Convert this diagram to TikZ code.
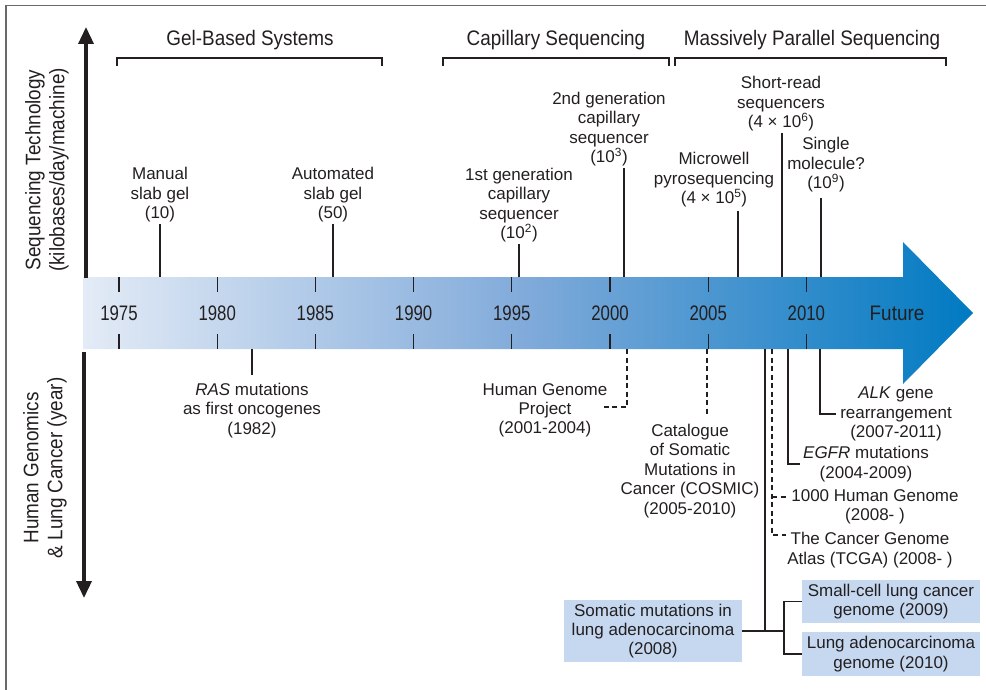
\documentclass[tikz,border=0pt]{standalone}
\usepackage{fontspec}
\setmainfont{Liberation Sans}
\newfontfamily\yearfont[FakeStretch=0.8]{Liberation Sans}
\newfontfamily\headfont[FakeStretch=0.9]{Liberation Sans}
\usepackage{tikz}
\usetikzlibrary{arrows.meta,positioning,calc}

\definecolor{ink}{RGB}{35,31,32}
\definecolor{framegray}{RGB}{105,105,105}
\definecolor{boxblue}{RGB}{197,216,240}
\definecolor{barlight}{RGB}{227,235,246}
\definecolor{barmid}{RGB}{128,170,218}
\definecolor{bardark}{RGB}{0,122,194}

\tikzset{
  lbl/.style={align=center, inner sep=1.5pt, text=ink, font=\fontsize{17}{19.4}\selectfont},
  yearlbl/.style={text=ink, font=\yearfont\fontsize{21}{24}\selectfont},
  headlbl/.style={text=ink, font=\headfont\fontsize{21}{24}\selectfont},
  sidelbl/.style={align=center, rotate=90, text=ink, font=\headfont\fontsize{21}{24}\selectfont},
  mline/.style={draw=ink, line width=1.6pt},
  dline/.style={draw=ink, line width=1.6pt, dash pattern=on 5pt off 3.5pt},
  bline/.style={draw=ink, line width=1.2pt},
  tickline/.style={draw=ink, line width=1.3pt},
  axisarrow/.style={draw=ink, line width=3.5pt, -{Triangle[width=15pt,length=17pt]}},
  bluebox/.style={fill=boxblue, align=center, text=ink, inner sep=0pt,
    minimum width=178pt, font=\fontsize{17}{19.4}\selectfont},
}

\begin{document}
\begin{tikzpicture}[x=1pt, y=-1pt]
        \useasboundingbox (0,0) rectangle (986,690);

        % Frame
        \draw[framegray, line width=1.5pt] (6,690) -- (6,5.5) -- (986,5.5);

        % Time arrow
        \shade[left color=barlight, right color=bardark, middle color=barmid]
          (83,277) -- (903,277) -- (903,242) -- (973,313) -- (903,384) -- (903,349) -- (83,349) -- cycle;
        \coordinate (bartop) at (0,277);
        \coordinate (barbot) at (0,349);
        \foreach \yr [count=\i from 0] in {1975,1980,...,2010} {
          \node[yearlbl] (yr\yr) at (119+98.2*\i,313) {\yr};
          \draw[tickline] (yr\yr.center |- bartop) -- ++(0,15);
          \draw[tickline] (yr\yr.center |- barbot) -- ++(0,-15);
        }
        \node[headlbl] (future) at (897,313) {Future};

        % Side axes
        \draw[axisarrow] (86,278) -- (86,27);
        \draw[axisarrow] (84,352) -- (84,598);
        \node[sidelbl] (seqtech) at (47,170) {Sequencing Technology\\(kilobases/day/machine)};
        \node[sidelbl] (genomics) at (45,468) {Human Genomics\\\& Lung Cancer (year)};

        % Eras
        \draw[bline] (117,66) -- (117,58) -- (382,58) -- (382,66);
        \draw[bline] (443,66) -- (443,58) -- (669,58) -- (669,66);
        \draw[bline] (675,66) -- (675,58) -- (946,58) -- (946,66);
        \node[headlbl] (gel) at (250,40) {Gel-Based Systems};
        \node[headlbl] (capillary) at (556,40) {Capillary Sequencing};
        \node[headlbl] (parallel) at (812,40) {Massively Parallel Sequencing};

        % Sequencing technology
        \node[lbl, above] (manual) at (160,224) {Manual\\slab gel\\(10)};
        \draw[mline] (manual.south) -- (manual.south |- bartop);
        \node[lbl, above] (automated) at (333,224) {Automated\\slab gel\\(50)};
        \draw[mline] (automated.south) -- (automated.south |- bartop);
        \node[lbl, above] (gen1) at (519,244) {1st generation\\capillary\\sequencer\\(10\textsuperscript{2})};
        \draw[mline] (gen1.south) -- (gen1.south |- bartop);
        \node[lbl, above] (gen2) at (609,168) {2nd generation\\capillary\\sequencer\\(10\textsuperscript{3})};
        \draw[mline] ([xshift=15pt]gen2.south) -- ([xshift=15pt]gen2.south |- bartop);
        \node[lbl, above] (micro) at (714,209) {Microwell\\pyrosequencing\\(4 × 10\textsuperscript{5})};
        \draw[mline] ([xshift=24pt,yshift=-2pt]micro.south) -- ([xshift=24pt]micro.south |- bartop);
        \node[lbl, above] (shortread) at (781,133) {Short-read\\sequencers\\(4 × 10\textsuperscript{6})};
        \draw[mline] ([xshift=1pt]shortread.south) -- ([xshift=1pt]shortread.south |- bartop);
        \node[lbl, above] (single) at (826,194) {Single\\molecule?\\(10\textsuperscript{9})};
        \draw[mline] ([xshift=-5pt,yshift=-4pt]single.south) -- ([xshift=-5pt]single.south |- bartop);

        % Human genomics and lung cancer
        \node[lbl, below] (ras) at (252,381.5) {\textit{RAS} mutations\\as first oncogenes\\(1982)};
        \draw[mline] (ras.north |- barbot) -- ([yshift=6.5pt]ras.north);

        \node[lbl, below] (hgp) at (545,381.5) {Human Genome\\Project\\(2001-2004)};
        \coordinate (hgpfoot) at (627,349);
        \draw[dline] (hgpfoot) -- ++(0,58) -- ++(-25,0);

        \node[lbl, below] (cosmic) at (690,422.5) {Catalogue\\of Somatic\\Mutations in\\Cancer (COSMIC)\\(2005-2010)};
        \coordinate (cosmicfoot) at (707,349);
        \draw[dline] (cosmicfoot) -- ++(0,66);

        \node[lbl] (alk) at (896,414) {\textit{ALK} gene\\rearrangement\\(2007-2011)};
        \coordinate (alkfoot) at (820,349);
        \draw[mline] (alkfoot) |- ([xshift=-3pt]alk.west);

        \node[lbl] (egfr) at (866,464) {\textit{EGFR} mutations\\(2004-2009)};
        \coordinate (egfrfoot) at (788,349);
        \draw[mline] (egfrfoot) |- ([xshift=-1pt]egfr.west);

        \node[lbl] (kgp) at (875,507) {1000 Human Genome\\(2008- )};
        \node[lbl] (tcga) at (870,550) {The Cancer Genome\\Atlas (TCGA) (2008- )};
        \coordinate (tcgafoot) at (772,349);
        \draw[dline] (tcgafoot) -- (772,535) -- (786,535);
        \draw[dline] (772,497) -- (786,497);

        % Lung cancer genomes
        \node[bluebox, minimum height=62pt] (somatic) at (653,631) {Somatic mutations in\\lung adenocarcinoma\\(2008)};
        \node[bluebox, minimum height=43pt] (sclc) at (891,601.5) {Small-cell lung cancer\\genome (2009)};
        \node[bluebox, minimum height=44pt] (luad) at (891,654) {Lung adenocarcinoma\\genome (2010)};
        \coordinate (somfoot) at (765,349);
        \draw[mline] (somfoot) |- (somatic.east);
        \draw[bline] (somatic.east) -- ++(42,0);
        \draw[bline] (sclc.west) -| (784,631) |- (luad.west);
\end{tikzpicture}
\end{document}
